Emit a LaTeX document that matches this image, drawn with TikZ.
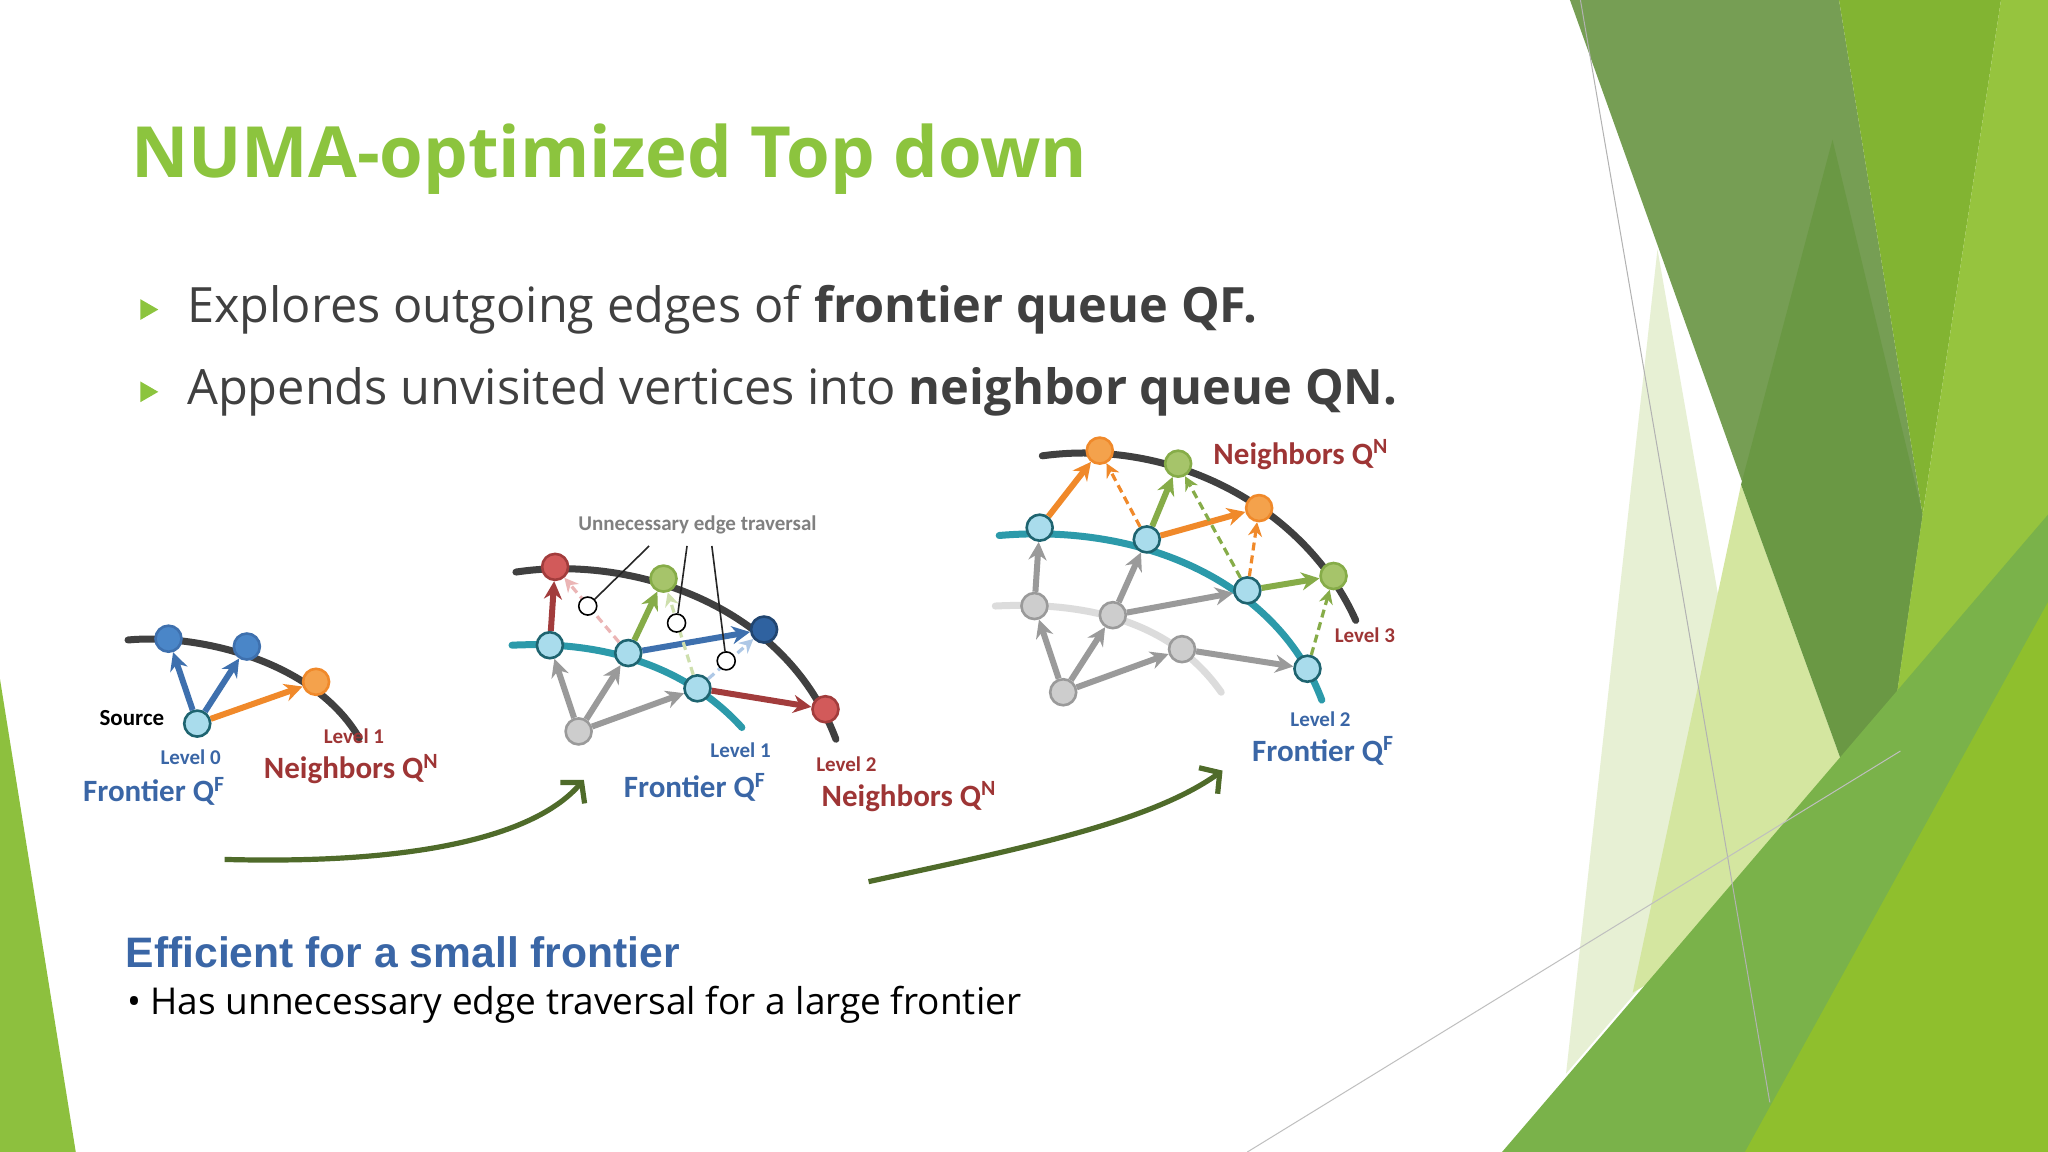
\documentclass[tikz,border=0pt]{standalone}
\usepackage{fontspec}
\setmainfont{Carlito}
\newfontfamily\titlefont{Open Sans}
\newfontfamily\arialf{Liberation Sans}
\usetikzlibrary{arrows.meta,shapes.geometric}
\definecolor{tgreen}{HTML}{8CC43E}
\definecolor{txtgray}{HTML}{404040}
\definecolor{lblue}{HTML}{3A66A6}
\definecolor{lred}{HTML}{9E3535}
\definecolor{tealc}{HTML}{2C9AAA}
\definecolor{tealb}{HTML}{1E6470}
\definecolor{lbfill}{HTML}{A9DCEC}
\definecolor{orf}{HTML}{F4A24C}
\definecolor{orc}{HTML}{F0892A}
\definecolor{grf}{HTML}{A6C46A}
\definecolor{grc}{HTML}{86AC48}
\definecolor{rdf}{HTML}{D25A5A}
\definecolor{rdc}{HTML}{A23C3C}
\definecolor{bluf}{HTML}{4A86C8}
\definecolor{bluc}{HTML}{3E70AE}
\definecolor{dbluf}{HTML}{2F62A0}
\definecolor{gyf}{HTML}{CDCDCD}
\definecolor{gyc}{HTML}{9A9A9A}
\definecolor{olive}{HTML}{4F6B2A}
\definecolor{arcc}{HTML}{404040}
\tikzset{
 vtx/.style={circle,minimum size=13pt,inner sep=0pt,line width=1.3pt},
 tv/.style={vtx,fill=lbfill,draw=tealb},
 ov/.style={vtx,fill=orf,draw=orc},
 gv/.style={vtx,fill=grf,draw=grc},
 rv/.style={vtx,fill=rdf,draw=rdc},
 bv/.style={vtx,fill=bluf,draw=bluc},
 dbv/.style={vtx,fill=dbluf,draw=dbluf!70!black},
 gyv/.style={vtx,fill=gyf,draw=gyc},
 ov2/.style={circle,minimum size=9pt,inner sep=0pt,draw=black,fill=white,line width=0.8pt},
 ed/.style={line width=3pt,-{Stealth[length=9pt,width=9pt]}},
 ded/.style={line width=1.6pt,dash pattern=on 4pt off 2.5pt,-{Stealth[length=7pt,width=7pt]}},
 arcl/.style={line width=3.5pt,line cap=round},
 big/.style={font=\fontsize{15.5}{15.5}\selectfont\bfseries},
 lev/.style={font=\fontsize{10.5}{10.5}\selectfont\bfseries},
 curv/.style={line width=2.6pt,draw=olive,-{Straight Barb[length=7pt,width=16pt,line width=2.6pt]}},
 bul/.style={fill=tgreen,isosceles triangle,isosceles triangle apex angle=60,inner sep=0pt,minimum size=9pt},
 call/.style={line width=0.8pt,draw=black!85},
}
\begin{document}
\begin{tikzpicture}[x=0.653pt,y=-0.653pt]
\useasboundingbox (0,0) rectangle (1568,882);
\fill[white] (0,0) rectangle (1568,882);
% background shapes
\fill[color={rgb,255:red,141;green,192;blue,62}] (0,520) -- (58,882) -- (0,882) -- cycle;
\fill[color={rgb,255:red,231;green,240;blue,212}] (1269,191) -- (1349,647) -- (1199,822) -- cycle;
\fill[color={rgb,255:red,212;green,230;blue,160}] (1333,371) -- (1435,652) -- (1250,760) -- cycle;
\fill[color={rgb,255:red,118;green,158;blue,84}] (1202,0) -- (1408,0) -- (1472,394) -- (1435,652) -- cycle;
\fill[color={rgb,255:red,106;green,152;blue,68}] (1403,107) -- (1472,394) -- (1435,652) -- (1333,371) -- cycle;
\fill[color={rgb,255:red,130;green,180;blue,50}] (1408,0) -- (1532,0) -- (1472,394) -- cycle;
\fill[color={rgb,255:red,150;green,196;blue,62}] (1532,0) -- (1568,0) -- (1568,882) -- (1400,882) -- (1435,652) -- (1472,394) -- cycle;
\fill[color={rgb,255:red,122;green,178;blue,74}] (1150,882) -- (1568,394) -- (1568,882) -- cycle;
\fill[color={rgb,255:red,143;green,191;blue,45}] (1336,882) -- (1568,461) -- (1568,882) -- cycle;
\draw[gray!60,line width=0.5pt] (1210,0) -- (1355,844);
\draw[gray!50,line width=0.5pt] (955,882) -- (1455,575);
% title
\node[anchor=west,text=tgreen,inner sep=0] (title) at (100,122)
 {\resizebox{478pt}{!}{\titlefont\bfseries NUMA-optimized Top down}};
% bullets
\node[bul] (b1) at (112,237) {};
\node[bul] (b2) at (112,300) {};
\node[anchor=west,text=txtgray,inner sep=0] (t1) at (143,237)
 {\resizebox{535pt}{!}{\titlefont Explores outgoing edges of \textbf{frontier queue QF.}}};
\node[anchor=west,text=txtgray,inner sep=0] (t2) at (143,300)
 {\resizebox{605pt}{!}{\titlefont Appends unvisited vertices into \textbf{neighbor queue QN.}}};
% bottom text
\node[anchor=west,text=lblue,inner sep=0] (eff) at (96,729)
 {\resizebox{277pt}{!}{\arialf\bfseries Efficient for a small frontier}};
\node[anchor=west,text=black,inner sep=0] (has) at (97,769)
 {\resizebox{447pt}{!}{\titlefont\textbullet\ Has unnecessary edge traversal for a large frontier}};

% ---------- panel 1
\draw[arcl,arcc] (98,490) .. controls (150,485) and (240,505) .. (275,565);
\node[bv] (p1a) at (129,489) {};
\node[bv] (p1b) at (189,495) {};
\node[ov] (p1c) at (242,522) {};
\node[tv] (p1s) at (151,554) {};
\draw[ed,bluc] (p1s) -- (p1a);
\draw[ed,bluc] (p1s) -- (p1b);
\draw[ed,orc] (p1s) -- (p1c);
\node[font=\fontsize{11.5}{11.5}\selectfont\bfseries] (src) at (101,550) {Source};
\node[lev,text=lblue] (l0) at (146,580) {Level 0};
\node[big,text=lblue] (f1) at (118,606) {Frontier Q\textsuperscript{F}};
\node[lev,text=lred] (l1) at (271,564) {Level 1};
\node[big,text=lred] (n1) at (269,589) {Neighbors Q\textsuperscript{N}};

% ---------- panel 2
\draw[arcl,arcc] (395,438) .. controls (480,425) and (600,460) .. (640,566);
\draw[arcl,tealc] (392,494) .. controls (470,490) and (530,515) .. (568,557);
\node[rv] (p2r1) at (425,434) {};
\node[gv] (p2g1) at (508,443) {};
\node[dbv] (p2b) at (585,482) {};
\node[rv] (p2r2) at (632,543) {};
\node[tv] (p2t1) at (421,494) {};
\node[tv] (p2t2) at (481,500) {};
\node[tv] (p2t3) at (534,527) {};
\node[gyv] (p2g) at (443,560) {};
\draw[ed,gyc] (p2g) -- (p2t1);
\draw[ed,gyc] (p2g) -- (p2t2);
\draw[ed,gyc] (p2g) -- (p2t3);
\draw[ed,rdc] (p2t1) -- (p2r1);
\draw[ed,grc] (p2t2) -- (p2g1);
\draw[ed,bluc] (p2t2) -- (p2b);
\draw[ed,rdc] (p2t3) -- (p2r2);
\draw[ded,rdf!45] (p2t2) -- (p2r1);
\draw[ded,grf!55] (p2t3) -- (p2g1);
\draw[ded,bluf!45] (p2t3) -- (p2b);
\node[ov2] (c1) at (450,464) {};
\node[ov2] (c2) at (518,477) {};
\node[ov2] (c3) at (556,506) {};
\node[font=\fontsize{10.5}{10.5}\selectfont\bfseries,text=gray] (unn) at (534,402) {Unnecessary edge traversal};
\coordinate (u1) at (497,418);
\coordinate (u2) at (526,418);
\coordinate (u3) at (545,418);
\draw[call] (u1) -- (c1);
\draw[call] (u2) -- (c2);
\draw[call] (u3) -- (c3);
\node[lev,text=lblue] (l1b) at (567,574) {Level 1};
\node[big,text=lblue] (f2) at (532,603) {Frontier Q\textsuperscript{F}};
\node[lev,text=lred] (l2) at (648,585) {Level 2};
\node[big,text=lred] (n2) at (696,610) {Neighbors Q\textsuperscript{N}};

% ---------- panel 3
\draw[arcl,arcc] (798,349) .. controls (900,335) and (1000,390) .. (1038,475);
\draw[arcl,gyf!70] (762,464) .. controls (840,460) and (900,480) .. (935,530);
\draw[arcl,tealc] (765,410) .. controls (880,400) and (980,450) .. (1012,536);
\node[ov] (q1) at (842,345) {};
\node[gv] (q2) at (902,355) {};
\node[ov] (q3) at (964,389) {};
\node[gv] (q4) at (1021,441) {};
\node[tv] (t1n) at (796,404) {};
\node[tv] (t2n) at (878,413) {};
\node[tv] (t3n) at (955,452) {};
\node[tv] (t4n) at (1001,512) {};
\node[gyv] (g1) at (792,464) {};
\node[gyv] (g2) at (852,471) {};
\node[gyv] (g3) at (905,497) {};
\node[gyv] (g0) at (814,530) {};
\draw[ed,gyc] (g0) -- (g1);
\draw[ed,gyc] (g0) -- (g2);
\draw[ed,gyc] (g0) -- (g3);
\draw[ed,gyc] (g1) -- (t1n);
\draw[ed,gyc] (g2) -- (t2n);
\draw[ed,gyc] (g2) -- (t3n);
\draw[ed,gyc] (g3) -- (t4n);
\draw[ed,orc] (t1n) -- (q1);
\draw[ed,grc] (t2n) -- (q2);
\draw[ed,orc] (t2n) -- (q3);
\draw[ed,grc] (t3n) -- (q4);
\draw[ded,orc] (t2n) -- (q1);
\draw[ded,grc] (t3n) -- (q2);
\draw[ded,orc] (t3n) -- (q3);
\draw[ded,grc] (t4n) -- (q4);
\node[big,text=lred] (n3) at (996,348) {Neighbors Q\textsuperscript{N}};
\node[lev,text=lred] (l3) at (1045,486) {Level 3};
\node[lev,text=lblue] (l2b) at (1011,551) {Level 2};
\node[big,text=lblue] (f3) at (1013,575) {Frontier Q\textsuperscript{F}};

% curved arrows
\coordinate (a1s) at (172,658);
\coordinate (a1e) at (447,597);
\coordinate (a2s) at (665,675);
\coordinate (a2e) at (936,590);
\draw[curv] (a1s) .. controls (320,662) and (410,640) .. (a1e);
\draw[curv] (a2s) .. controls (780,650) and (880,630) .. (a2e);
\end{tikzpicture}
\end{document}
